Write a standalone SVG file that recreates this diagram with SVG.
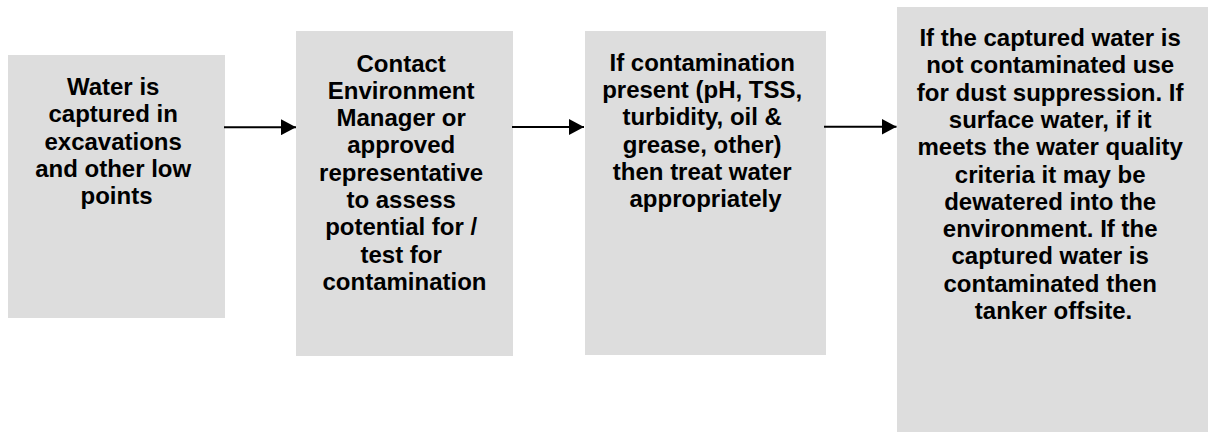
<svg xmlns="http://www.w3.org/2000/svg" width="1208" height="432" viewBox="0 0 1208 432">
<style>
.box{fill:#dddddd;stroke:none}
.t{font-family:"Liberation Sans",Arial,sans-serif;font-weight:bold;font-size:24px;fill:#000;text-anchor:middle}
.c{stroke:#000;stroke-width:2;fill:none}
</style>
<defs>
<marker id="ah" markerWidth="16" markerHeight="16" refX="15" refY="8" orient="auto" markerUnits="userSpaceOnUse">
<path d="M0,0 L15,8 L0,16 Z" fill="#000"/>
</marker>
</defs>
<rect width="1208" height="432" fill="#fff"/>
<g id="n1">
<rect class="box" x="8" y="55" width="217" height="263"/>
<text class="t" x="116.5" y="95">
<tspan x="116.5" y="95">Water is</tspan>
<tspan x="116.5" dy="27.3">captured in</tspan>
<tspan x="116.5" dy="27.3">excavations</tspan>
<tspan x="116.5" dy="27.3">and other low</tspan>
<tspan x="116.5" dy="27.3">points</tspan>
</text>
</g>
<g id="n2">
<rect class="box" x="296" y="31" width="217" height="325"/>
<text class="t" x="404.5" y="71.5">
<tspan x="404.5" y="71.5">Contact</tspan>
<tspan x="404.5" dy="27.3">Environment</tspan>
<tspan x="404.5" dy="27.3">Manager or</tspan>
<tspan x="404.5" dy="27.3">approved</tspan>
<tspan x="404.5" dy="27.3">representative</tspan>
<tspan x="404.5" dy="27.3">to assess</tspan>
<tspan x="404.5" dy="27.3">potential for /</tspan>
<tspan x="404.5" dy="27.3">test for</tspan>
<tspan x="404.5" dy="27.3">contamination</tspan>
</text>
</g>
<g id="n3">
<rect class="box" x="585" y="31" width="241" height="324"/>
<text class="t" x="705.5" y="70.7">
<tspan x="705.5" y="70.7">If contamination</tspan>
<tspan x="705.5" dy="27.3">present (pH, TSS,</tspan>
<tspan x="705.5" dy="27.3">turbidity, oil &amp;</tspan>
<tspan x="705.5" dy="27.3">grease, other)</tspan>
<tspan x="705.5" dy="27.3">then treat water</tspan>
<tspan x="705.5" dy="27.3">appropriately</tspan>
</text>
</g>
<g id="n4">
<rect class="box" x="897" y="7" width="313" height="430"/>
<text class="t" x="1053.5" y="46">
<tspan x="1053.5" y="46">If the captured water is</tspan>
<tspan x="1053.5" dy="27.3">not contaminated use</tspan>
<tspan x="1053.5" dy="27.3">for dust suppression. If</tspan>
<tspan x="1053.5" dy="27.3">surface water, if it</tspan>
<tspan x="1053.5" dy="27.3">meets the water quality</tspan>
<tspan x="1053.5" dy="27.3">criteria it may be</tspan>
<tspan x="1053.5" dy="27.3">dewatered into the</tspan>
<tspan x="1053.5" dy="27.3">environment. If the</tspan>
<tspan x="1053.5" dy="27.3">captured water is</tspan>
<tspan x="1053.5" dy="27.3">contaminated then</tspan>
<tspan x="1053.5" dy="27.3">tanker offsite.</tspan>
</text>
</g>
<g id="connectors">
<line class="c" x1="224" y1="127.2" x2="296" y2="127.2" marker-end="url(#ah)"/>
<line class="c" x1="512" y1="127" x2="584" y2="127" marker-end="url(#ah)"/>
<line class="c" x1="824" y1="126.8" x2="896.5" y2="126.8" marker-end="url(#ah)"/>
</g>
</svg>
